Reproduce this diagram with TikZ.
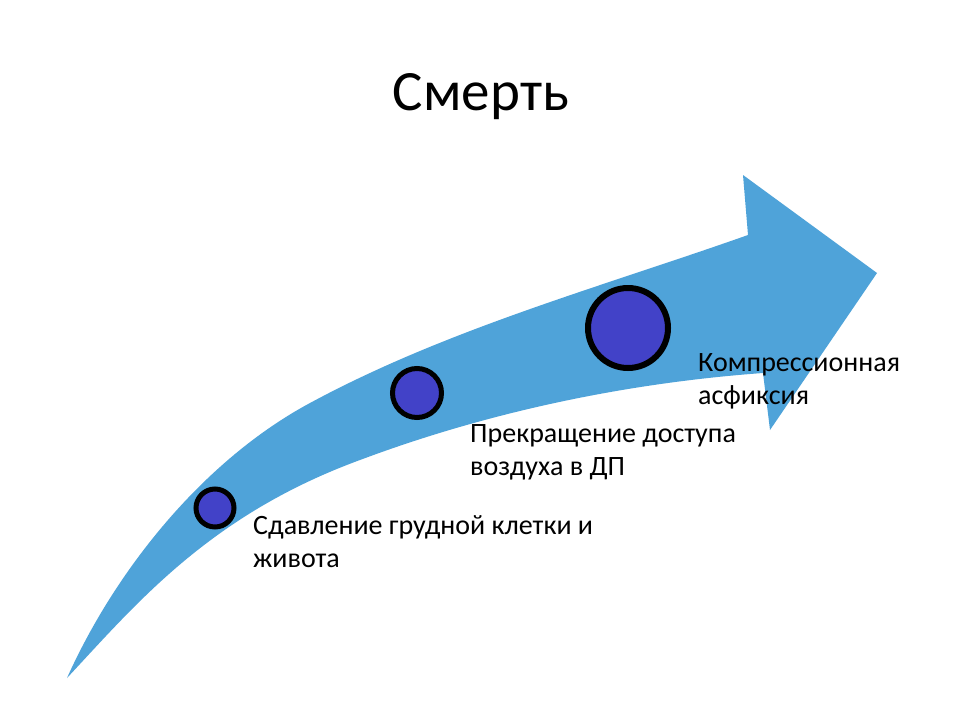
\documentclass[tikz,border=0pt]{standalone}
\usepackage{fontspec}
\setmainfont{Carlito}
\usepackage{tikz}
\usetikzlibrary{shapes, calc}

\definecolor{arrowblue}{RGB}{79,163,217}
\definecolor{dotblue}{RGB}{66,66,200}

\begin{document}
\begin{tikzpicture}[x=1pt, y=-1pt]
		\tikzstyle{dot}=[circle, draw=black, fill=dotblue, inner sep=0pt]
		\tikzstyle{stage}=[anchor=base west, align=left, inner sep=0pt,
			font=\fontsize{28}{33}\selectfont]

		\useasboundingbox[fill=white] (0,0) rectangle (960,720);

		% the big curved arrow
		\fill[arrowblue] (67,678)
			.. controls (116,569) and (204,460) .. (310,403)
			.. controls (447,329) and (601,287) .. (748,235)
			-- (743,175) -- (877,273) -- (770,430) -- (763,373)
			.. controls (626,383) and (488,412) .. (360,460)
			.. controls (210,515) and (137,603) .. (67,678)
			-- cycle;

		\node[anchor=base, font=\fontsize{57}{68}\selectfont] (title) at (481,110) {Смерть};

		\node[dot, line width=5pt, minimum size=38pt] (dotA) at (215,508) {};
		\node[dot, line width=5pt, minimum size=49pt] (dotB) at (417,393) {};
		\node[dot, line width=6pt, minimum size=80pt] (dotC) at (628,328) {};

		\node[stage] (stageA) at (253,567) {Сдавление грудной клетки и\\живота};
		\node[stage] (stageB) at (470,475) {Прекращение доступа\\воздуха в ДП};
		\node[stage] (stageC) at (698,404) {Компрессионная\\асфиксия};

	\end{tikzpicture}
\end{document}
